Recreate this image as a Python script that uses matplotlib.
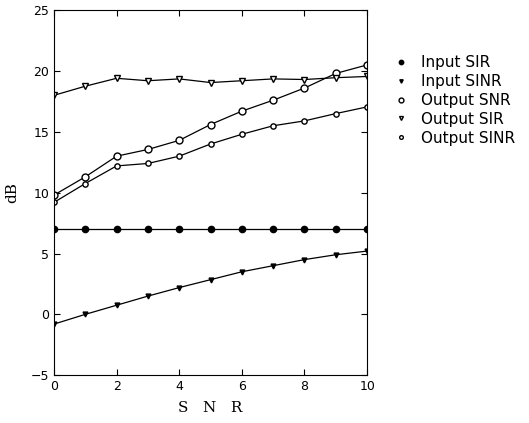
import matplotlib.pyplot as plt
import numpy as np

snr = np.arange(0, 11)

input_sir = [7.0] * 11
input_sinr = [-0.8, 0.0, 0.75, 1.5, 2.2, 2.85, 3.5, 4.0, 4.5, 4.9, 5.2]
output_snr = [9.8, 11.3, 13.0, 13.55, 14.3, 15.6, 16.7, 17.6, 18.6, 19.8, 20.5]
output_sir = [18.0, 18.75, 19.4, 19.2, 19.35, 19.05, 19.2, 19.35, 19.3, 19.45, 19.55]
output_sinr = [9.2, 10.75, 12.2, 12.4, 13.0, 14.0, 14.8, 15.5, 15.9, 16.5, 17.05]

labels = ["Input SIR", "Input SINR", "Output SNR", "Output SIR", "Output SINR"]

fig = plt.figure(figsize=(5.29, 4.23), dpi=100)
ax = fig.add_axes([0.102, 0.113, 0.592, 0.863])

lw = 0.9
ax.plot(snr, input_sir, color="black", lw=lw, marker="o", ms=4.5,
        mfc="black", mec="black", label=labels[0])
ax.plot(snr, input_sinr, color="black", lw=lw, marker="v", ms=3.5,
        mfc="black", mec="black", label=labels[1])
ax.plot(snr, output_snr, color="black", lw=lw, marker="o", ms=5,
        mfc="white", mec="black", label=labels[2])
ax.plot(snr, output_sir, color="black", lw=lw, marker="v", ms=4,
        mfc="white", mec="black", label=labels[3])
ax.plot(snr, output_sinr, color="black", lw=lw, marker="o", ms=3.8,
        mfc="white", mec="black", label=labels[4])

ax.set_xlim(0, 10)
ax.set_ylim(-5, 25)
ax.set_xticks([0, 2, 4, 6, 8, 10])
ax.set_yticks([-5, 0, 5, 10, 15, 20, 25])
ax.tick_params(direction="in", length=4, labelsize=9, top=True, right=True,
               width=0.8)
for s in ax.spines.values():
    s.set_linewidth(0.8)

ax.set_ylabel("dB", family="serif", fontsize=11, labelpad=8)
ax.set_xlabel("S   N   R", family="serif", fontsize=11, labelpad=6)

leg = ax.legend(loc="upper left", bbox_to_anchor=(1.065, 0.893), frameon=False,
                fontsize=11, handlelength=1.0, handletextpad=0.8,
                labelspacing=0.25, markerscale=0.7, borderaxespad=0)
for h in leg.legend_handles:
    h.set_linestyle("none")

fig.savefig("out.png", dpi=100)
